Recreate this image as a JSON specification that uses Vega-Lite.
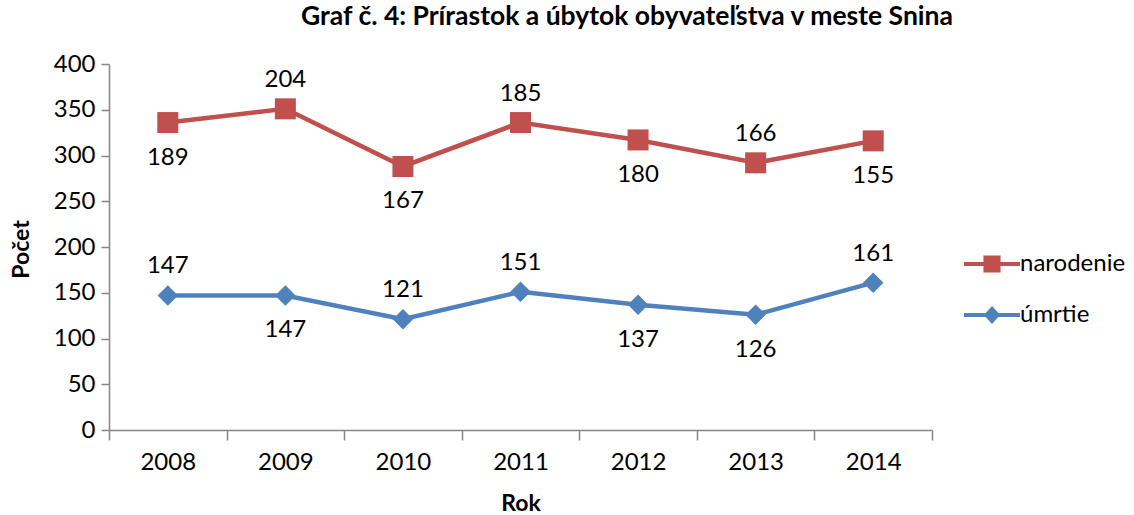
{
  "$schema": "https://vega.github.io/schema/vega-lite/v6.json",
  "width": 823,
  "height": 366,
  "autosize": {"type": "none"},
  "padding": {"left": 109, "top": 64, "right": 202, "bottom": 85},
  "background": "white",
  "config": {"font": "Lato", "view": {"stroke": null}},
  "title": {
    "text": "Graf č. 4: Prírastok a úbytok obyvateľstva v meste Snina",
    "anchor": "start",
    "dx": 291,
    "offset": 22,
    "fontSize": 26.5,
    "fontWeight": "bold",
    "font": "Lato",
    "color": "#000000"
  },
  "data": {
    "values": [
      {"year": 2008, "series": "narodenie", "value": 189},
      {"year": 2009, "series": "narodenie", "value": 204},
      {"year": 2010, "series": "narodenie", "value": 167},
      {"year": 2011, "series": "narodenie", "value": 185},
      {"year": 2012, "series": "narodenie", "value": 180},
      {"year": 2013, "series": "narodenie", "value": 166},
      {"year": 2014, "series": "narodenie", "value": 155},
      {"year": 2008, "series": "úmrtie", "value": 147},
      {"year": 2009, "series": "úmrtie", "value": 147},
      {"year": 2010, "series": "úmrtie", "value": 121},
      {"year": 2011, "series": "úmrtie", "value": 151},
      {"year": 2012, "series": "úmrtie", "value": 137},
      {"year": 2013, "series": "úmrtie", "value": 126},
      {"year": 2014, "series": "úmrtie", "value": 161}
    ]
  },
  "transform": [
    {"stack": "value", "groupby": ["year"], "sort": [{"field": "series", "order": "descending"}], "as": ["y0", "y1"]}
  ],
  "encoding": {
    "x": {
      "field": "year",
      "type": "ordinal",
      "scale": {"paddingInner": 0, "paddingOuter": 0},
      "axis": {
        "title": "Rok",
        "titleFontSize": 23,
        "titleFontWeight": "bold",
        "titleColor": "#000000",
        "titleY": 73,
        "titleBaseline": "middle",
        "labelAngle": 0,
        "labelFontSize": 24,
        "labelColor": "#000000",
        "labelPadding": 10,
        "tickBand": "extent",
        "tickSize": 10,
        "tickColor": "#868686",
        "domainColor": "#868686",
        "domainWidth": 1.5,
        "tickWidth": 1.5,
        "grid": false
      }
    },
    "y": {
      "field": "y1",
      "type": "quantitative",
      "scale": {"domain": [0, 400], "nice": false},
      "axis": {
        "title": "Počet",
        "titleFontSize": 23,
        "titleFontWeight": "bold",
        "titleColor": "#000000",
        "titleX": -88,
        "titleY": 185,
        "titleBaseline": "middle",
        "titleAlign": "center",
        "values": [0, 50, 100, 150, 200, 250, 300, 350, 400],
        "labelFontSize": 24,
        "labelColor": "#000000",
        "labelPadding": 6,
        "tickSize": 8,
        "tickColor": "#868686",
        "domainColor": "#868686",
        "domainWidth": 1.5,
        "tickWidth": 1.5,
        "grid": false
      }
    }
  },
  "layer": [
    {
      "mark": {"type": "line", "strokeWidth": 4.5},
      "encoding": {
        "color": {
          "field": "series",
          "type": "nominal",
          "scale": {"domain": ["narodenie", "úmrtie"], "range": ["#C0504D", "#4F81BD"]},
          "legend": {
            "title": null,
            "orient": "none",
            "legendX": 865,
            "legendY": 182,
            "direction": "vertical",
            "symbolSize": 1024,
            "rowPadding": 18,
            "labelOffset": 10,
            "labelFontSize": 24,
            "labelColor": "#000000",
            "labelFont": "Lato",
            "encode": {
              "symbols": {
                "update": {
                  "shape": {"signal": "datum.value === 'narodenie' ? 'M-1.75,0H1.75M-0.41,-0.41H0.41V0.41H-0.41Z' : 'M-1.75,0H1.75M0,-0.38L0.34,0L0,0.38L-0.34,0Z'"},
                  "fill": {"signal": "datum.value === 'narodenie' ? '#C0504D' : '#4F81BD'"},
                  "stroke": {"signal": "datum.value === 'narodenie' ? '#C0504D' : '#4F81BD'"},
                  "strokeWidth": {"value": 4},
                  "opacity": {"value": 1},
                  "fillOpacity": {"value": 1},
                  "strokeOpacity": {"value": 1}
                }
              }
            }
          }
        }
      }
    },
    {
      "transform": [{"filter": "datum.series === 'narodenie'"}],
      "mark": {"type": "point", "shape": "square", "filled": true, "size": 441, "color": "#C0504D", "opacity": 1}
    },
    {
      "transform": [{"filter": "datum.series === 'úmrtie'"}],
      "mark": {"type": "point", "shape": "diamond", "filled": true, "size": 420, "color": "#4F81BD", "opacity": 1}
    },
    {
      "transform": [{"filter": "(datum.series === 'narodenie' && indexof([2009, 2011, 2013], datum.year) >= 0) || (datum.series === 'úmrtie' && indexof([2008, 2010, 2011, 2014], datum.year) >= 0)"}],
      "mark": {"type": "text", "dy": -29, "fontSize": 24, "color": "#000000", "baseline": "middle"},
      "encoding": {"text": {"field": "value", "type": "quantitative"}}
    },
    {
      "transform": [{"filter": "(datum.series === 'narodenie' && indexof([2008, 2010, 2012, 2014], datum.year) >= 0) || (datum.series === 'úmrtie' && indexof([2009, 2012, 2013], datum.year) >= 0)"}],
      "mark": {"type": "text", "dy": 35, "fontSize": 24, "color": "#000000", "baseline": "middle"},
      "encoding": {"text": {"field": "value", "type": "quantitative"}}
    }
  ]
}
